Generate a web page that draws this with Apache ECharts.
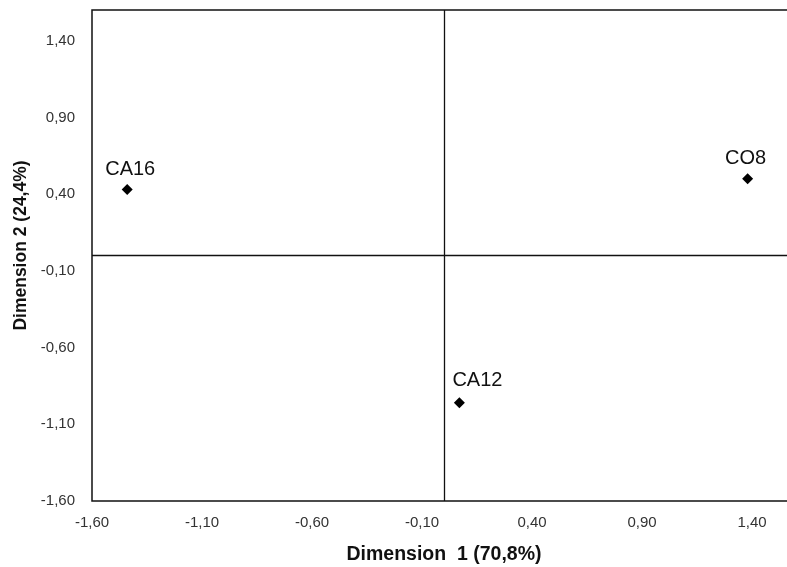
<!DOCTYPE html>
<html>
<head>
<meta charset="utf-8">
<script src="https://cdn.jsdelivr.net/npm/echarts@6/dist/echarts.min.js"></script>
<style>
html,body{margin:0;padding:0;background:#fff;}
#chart{width:787px;height:567px;}
</style>
</head>
<body>
<div id="chart"></div>
<script>
// ---- data ----
const pointNames = ['CA16', 'CO8', 'CA12'];
const dim1Values = [-1.44, 1.38, 0.07];
const dim2Values = [0.43, 0.50, -0.96];
const xTickValues = [-1.6, -1.1, -0.6, -0.1, 0.4, 0.9, 1.4];
const yTickValues = [-1.6, -1.1, -0.6, -0.1, 0.4, 0.9, 1.4];
const xAxisTitle = 'Dimension  1 (70,8%)';
const yAxisTitle = 'Dimension 2 (24,4%)';

// ---- style (label nudges, as in the original chart) ----
const labelNudge = { 'CA16': [3, 0], 'CO8': [-2, 0], 'CA12': [18, -2] };
const FONT = 'Liberation Sans, Arial, sans-serif';
const fmt = v => v.toFixed(2).replace('.', ',');

const chart = echarts.init(document.getElementById('chart'));
const seriesData = pointNames.map((n, i) => ({
  name: n,
  value: [dim1Values[i], dim2Values[i]],
  label: { offset: labelNudge[n] }
}));

chart.setOption({
  backgroundColor: '#fff',
  animation: false,
  grid: {
    left: 92, top: 10, width: 704, height: 491,
    outerBoundsMode: 'none', containLabel: false,
    show: true, borderColor: '#111', borderWidth: 1.5, backgroundColor: 'transparent'
  },
  xAxis: {
    type: 'value', min: -1.6, max: 1.6,
    axisLine: { show: false },
    axisTick: { show: false },
    splitLine: { show: false },
    axisLabel: {
      customValues: xTickValues,
      formatter: fmt,
      color: '#333', fontSize: 15, fontFamily: FONT, margin: 14
    },
    name: xAxisTitle, nameLocation: 'middle', nameGap: 44,
    nameTextStyle: { fontSize: 19.5, fontWeight: 'bold', color: '#111', fontFamily: FONT }
  },
  yAxis: {
    type: 'value', min: -1.6, max: 1.6,
    axisLine: { show: false },
    axisTick: { show: false },
    splitLine: { show: false },
    axisLabel: {
      customValues: yTickValues,
      formatter: fmt,
      color: '#333', fontSize: 15, fontFamily: FONT, margin: 17
    },
    name: yAxisTitle, nameLocation: 'middle', nameGap: 52,
    nameTextStyle: { fontSize: 17.5, fontWeight: 'bold', color: '#111', fontFamily: FONT, padding: [0, 0, 0, 20] }
  },
  series: [{
    type: 'scatter',
    symbol: 'diamond',
    symbolSize: 11,
    itemStyle: { color: '#000', opacity: 1 },
    data: seriesData,
    label: {
      show: true, position: 'top', distance: 5,
      formatter: p => p.name,
      fontSize: 20, color: '#111', opacity: 1, fontFamily: FONT
    },
    markLine: {
      silent: true, symbol: 'none',
      label: { show: false },
      lineStyle: { color: '#111', width: 1.3, type: 'solid', opacity: 1 },
      data: [{ xAxis: 0 }, { yAxis: 0 }]
    }
  }]
});
</script>
</body>
</html>
